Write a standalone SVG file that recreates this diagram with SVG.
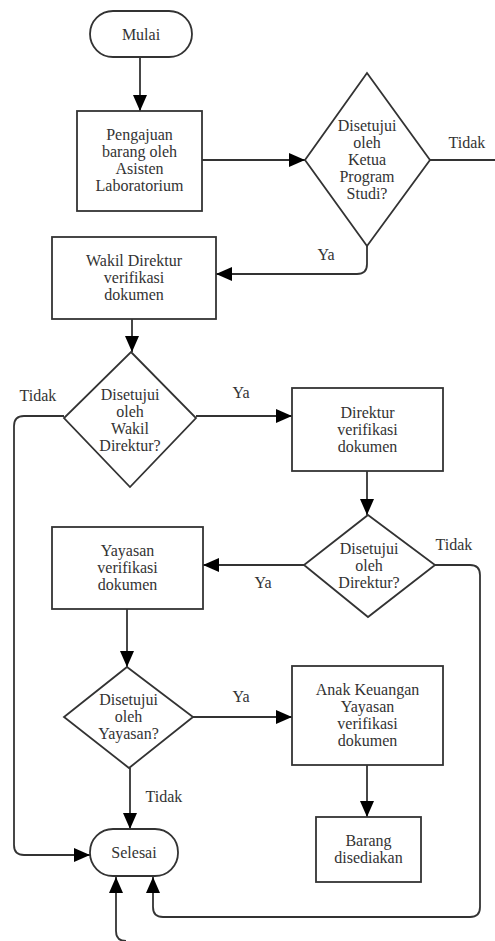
<svg xmlns="http://www.w3.org/2000/svg" width="495" height="941" viewBox="0 0 495 941">
<style>
.n{fill:#fff;stroke:#333;stroke-width:1.8}
.c{fill:none;stroke:#333;stroke-width:1.8}
text{font-family:"Liberation Serif","DejaVu Serif",serif;font-size:16px;fill:#333;text-anchor:middle}
</style>
<defs>
<marker id="a" viewBox="0 0 16 14" refX="16" refY="7" markerWidth="16" markerHeight="14" orient="auto" markerUnits="userSpaceOnUse">
<path d="M0,0 L16,7 L0,14 z" fill="#000"/>
</marker>
</defs>
<rect width="495" height="941" fill="#fff"/>
<g id="connectors">
<path class="c" d="M140 57 L140 111" marker-end="url(#a)"/>
<path class="c" d="M202 160 L305 160" marker-end="url(#a)"/>
<path class="c" d="M430 160 L495 160"/>
<path class="c" d="M367 246 L367 264 Q367 274 357 274 L216 274" marker-end="url(#a)"/>
<path class="c" d="M132 319 L132 352" marker-end="url(#a)"/>
<path class="c" d="M64 416 L24 416 Q14 416 14 426 L14 845 Q14 855 24 855 L90 855" marker-end="url(#a)"/>
<path class="c" d="M196 416 L292 416" marker-end="url(#a)"/>
<path class="c" d="M367 471 L367 515" marker-end="url(#a)"/>
<path class="c" d="M304 565 L203 565" marker-end="url(#a)"/>
<path class="c" d="M435 565 L470 565 Q480 565 480 575 L480 907 Q480 917 470 917 L163 917 Q153 917 153 907 L153 877" marker-end="url(#a)"/>
<path class="c" d="M127 609 L127 667" marker-end="url(#a)"/>
<path class="c" d="M193 717 L292 717" marker-end="url(#a)"/>
<path class="c" d="M130 768 L130 829" marker-end="url(#a)"/>
<path class="c" d="M367 765 L367 817" marker-end="url(#a)"/>
<path class="c" d="M126 941 Q116 941 116 931 L116 877" marker-end="url(#a)"/>
<text x="467" y="148">Tidak</text>
<text x="326" y="260">Ya</text>
<text x="38" y="401">Tidak</text>
<text x="241" y="398">Ya</text>
<text x="454" y="550">Tidak</text>
<text x="263" y="588">Ya</text>
<text x="241" y="702">Ya</text>
<text x="164" y="802">Tidak</text>
</g>
<g id="mulai">
<rect class="n" x="90" y="11" width="102" height="46" rx="23"/>
<text x="141" y="39.5">Mulai</text>
</g>
<g id="pengajuan">
<rect class="n" x="77" y="111" width="125" height="100"/>
<text x="139.5" y="140">Pengajuan</text>
<text x="139.5" y="157">barang oleh</text>
<text x="139.5" y="174">Asisten</text>
<text x="139.5" y="191">Laboratorium</text>
</g>
<g id="d1">
<polygon class="n" points="367,73 430,160 367,246 305,160"/>
<text x="367" y="131">Disetujui</text>
<text x="367" y="148">oleh</text>
<text x="367" y="165">Ketua</text>
<text x="367" y="182">Program</text>
<text x="367" y="199">Studi?</text>
</g>
<g id="wakil">
<rect class="n" x="52" y="237" width="164" height="82"/>
<text x="134" y="266">Wakil Direktur</text>
<text x="134" y="283">verifikasi</text>
<text x="134" y="300">dokumen</text>
</g>
<g id="d2">
<polygon class="n" points="131,352 196,418 130,487 64,418"/>
<text x="130" y="400">Disetujui</text>
<text x="130" y="417">oleh</text>
<text x="130" y="434">Wakil</text>
<text x="130" y="451">Direktur?</text>
</g>
<g id="direktur">
<rect class="n" x="292" y="388" width="151" height="83"/>
<text x="367.5" y="418">Direktur</text>
<text x="367.5" y="435">verifikasi</text>
<text x="367.5" y="452">dokumen</text>
</g>
<g id="d3">
<polygon class="n" points="368,515 435,565 368,617 304,565"/>
<text x="369" y="553.5">Disetujui</text>
<text x="369" y="570.5">oleh</text>
<text x="369" y="587.5">Direktur?</text>
</g>
<g id="yayasan">
<rect class="n" x="52" y="527" width="151" height="82"/>
<text x="127.5" y="556">Yayasan</text>
<text x="127.5" y="573">verifikasi</text>
<text x="127.5" y="590">dokumen</text>
</g>
<g id="d4">
<polygon class="n" points="127,667 193,717 129,768 64,717"/>
<text x="128.5" y="704.5">Disetujui</text>
<text x="128.5" y="721.5">oleh</text>
<text x="128.5" y="738.5">Yayasan?</text>
</g>
<g id="anak">
<rect class="n" x="292" y="666" width="151" height="99"/>
<text x="367.5" y="695">Anak Keuangan</text>
<text x="367.5" y="712">Yayasan</text>
<text x="367.5" y="729">verifikasi</text>
<text x="367.5" y="746">dokumen</text>
</g>
<g id="barang">
<rect class="n" x="316" y="817" width="105" height="65"/>
<text x="368.5" y="845.5">Barang</text>
<text x="368.5" y="862.5">disediakan</text>
</g>
<g id="selesai">
<rect class="n" x="90" y="829" width="88" height="47" rx="23"/>
<text x="134" y="858">Selesai</text>
</g>
</svg>
